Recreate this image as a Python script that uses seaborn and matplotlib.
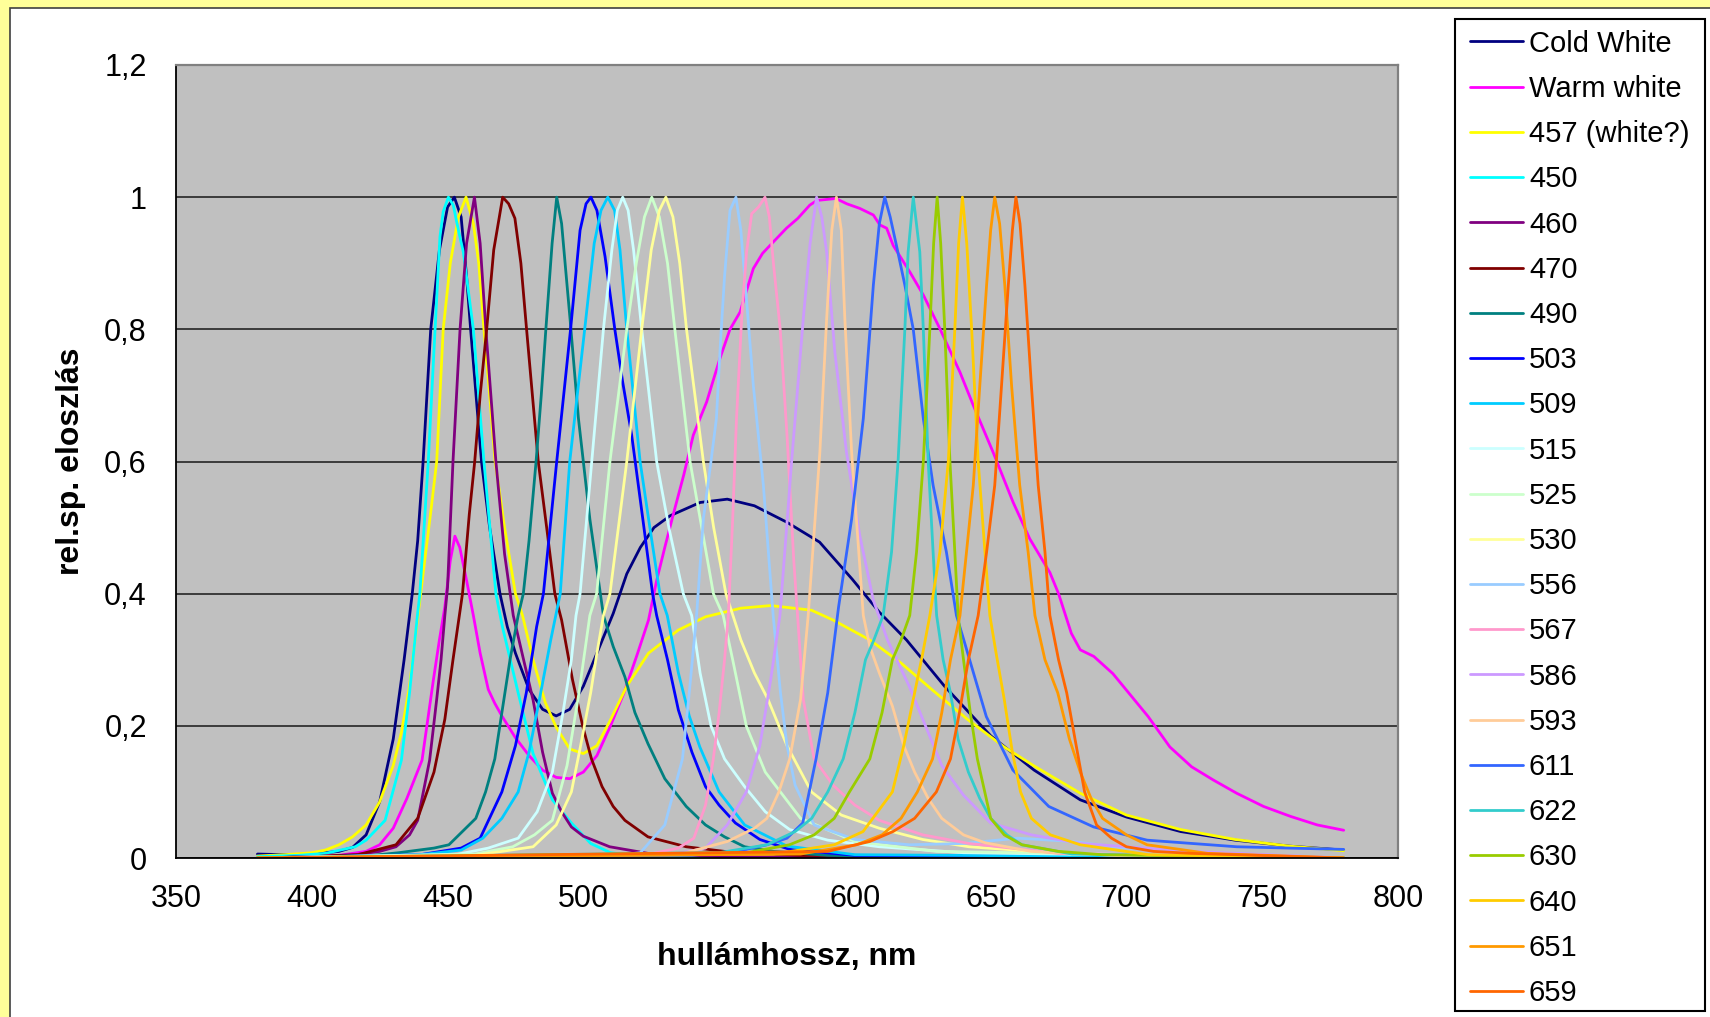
import matplotlib
matplotlib.use("Agg")
import matplotlib.pyplot as plt
from matplotlib.patches import Rectangle
import seaborn as sns

# spectra: wavelength (nm) and relative value
wl_cold = [380, 390, 400, 410, 415, 420, 425, 430, 434, 437, 439, 441, 443.8, 447, 450, 452.5, 455, 457, 458.5,
           460.5, 462.5, 465.5, 469.3, 472, 475, 480, 485, 490, 495, 500, 505, 511, 516, 521, 526, 532, 543,
           553, 563, 575, 587, 599, 609, 619, 633, 650, 666, 683, 700, 720, 740, 760, 780]
val_cold = [0.006, 0.005, 0.006, 0.010, 0.016, 0.035, 0.085, 0.18, 0.3, 0.4, 0.48, 0.6, 0.8, 0.92, 0.985, 1.0,
            0.97, 0.88, 0.8, 0.7, 0.6, 0.5, 0.4, 0.35, 0.31, 0.255, 0.225, 0.215, 0.225, 0.26, 0.31, 0.37, 0.43,
            0.47, 0.5, 0.518, 0.538, 0.543, 0.533, 0.508, 0.478, 0.422, 0.372, 0.33, 0.26, 0.185, 0.133, 0.088,
            0.062, 0.04, 0.027, 0.018, 0.012]

wl_warm = [380, 400, 410, 420, 425, 430, 435, 440.6, 444.8, 447, 449, 451, 452.7, 454.5, 457, 459.5, 462, 465,
           467.4, 470, 475, 480, 485, 490, 495, 500, 505, 510, 515, 520, 524, 527, 530, 533, 537, 540.5, 545.4,
           550.3, 554, 557.7, 562.6, 566, 569.9, 574.8, 579, 583.4, 586, 593, 597, 601.8, 606.8, 609.2, 611.7,
           614.1, 620.2, 625.2, 631.3, 638.7, 643.6, 650.9, 658.3, 664.4, 671.8, 675, 679.7, 683, 688, 695, 701,
           708, 716, 724, 732, 740.6, 750.5, 760.4, 770.3, 780]
val_warm = [0.002, 0.002, 0.004, 0.01, 0.02, 0.045, 0.09, 0.148, 0.27, 0.33, 0.38, 0.45, 0.487, 0.47, 0.42,
            0.367, 0.31, 0.255, 0.234, 0.215, 0.182, 0.155, 0.133, 0.122, 0.12, 0.13, 0.155, 0.2, 0.25, 0.31,
            0.36, 0.42, 0.47, 0.518, 0.58, 0.64, 0.69, 0.756, 0.8, 0.826, 0.892, 0.915, 0.932, 0.953, 0.968,
            0.988, 0.995, 0.998, 0.99, 0.983, 0.973, 0.958, 0.953, 0.927, 0.887, 0.852, 0.801, 0.735, 0.685,
            0.614, 0.538, 0.483, 0.432, 0.4, 0.34, 0.315, 0.305, 0.279, 0.249, 0.214, 0.168, 0.138, 0.118,
            0.098, 0.078, 0.063, 0.05, 0.042]

wl_457 = [380, 390, 400, 405, 410, 415, 420, 425, 430, 433, 436, 438.6, 441, 444, 446, 448.4, 451, 454, 456.8,
          459.5, 461.5, 463.4, 465.5, 467.5, 471, 475, 477.6, 481.5, 486, 490, 495, 500, 505, 510, 516, 524,
          535, 545, 558, 569, 584, 592, 605.5, 617, 628.6, 641.7, 655, 666.5, 683, 700, 720, 740, 760, 780]
val_457 = [0.003, 0.005, 0.008, 0.012, 0.02, 0.032, 0.05, 0.085, 0.14, 0.19, 0.26, 0.35, 0.43, 0.53, 0.6, 0.8,
           0.9, 0.97, 1.0, 0.96, 0.9, 0.8, 0.7, 0.6, 0.5, 0.4, 0.367, 0.3, 0.235, 0.198, 0.165, 0.158, 0.17,
           0.209, 0.26, 0.31, 0.345, 0.365, 0.378, 0.382, 0.375, 0.36, 0.33, 0.295, 0.254, 0.209, 0.168, 0.138,
           0.098, 0.065, 0.043, 0.028, 0.018, 0.011]

wl_450 = [380, 395, 405, 416, 420, 427, 433, 436, 438.9, 439.8, 442.9, 445.4, 447.2, 448.4, 450.3, 452.1, 454,
          455.8, 459.5, 463.4, 467.8, 470.2, 476, 481.5, 488.6, 495.6, 502.7, 510, 520, 540, 780]
val_450 = [0.002, 0.004, 0.007, 0.017, 0.027, 0.057, 0.148, 0.25, 0.367, 0.4, 0.6, 0.8, 0.94, 0.978, 1.0,
           0.988, 0.95, 0.917, 0.8, 0.6, 0.4, 0.35, 0.25, 0.158, 0.088, 0.053, 0.022, 0.008, 0.003, 0.001, 0.0]

wl_460 = [380, 400, 416, 425, 431, 436, 439, 443.4, 446, 447.6, 449, 450, 452, 454.6, 457, 459.9, 462, 464.1,
          467.8, 471, 474.2, 478, 481.5, 485, 488.6, 492, 495.6, 500, 509.7, 523.8, 550, 780]
val_460 = [0.0, 0.002, 0.005, 0.01, 0.017, 0.035, 0.057, 0.148, 0.24, 0.3, 0.367, 0.41, 0.6, 0.8, 0.93, 1.0,
           0.93, 0.8, 0.6, 0.46, 0.367, 0.3, 0.239, 0.16, 0.098, 0.07, 0.047, 0.033, 0.017, 0.007, 0.002, 0.0]

wl_470 = [380, 400, 417, 431, 439, 445, 449, 452, 455.5, 458, 460, 462, 464.4, 467, 470.3, 472.5, 474.8, 477,
          479.1, 483.4, 486.5, 489.5, 492, 496, 499.8, 503, 506.9, 511, 515.3, 523.8, 537.9, 552, 580, 780]
val_470 = [0.0, 0.002, 0.005, 0.02, 0.06, 0.13, 0.21, 0.3, 0.4, 0.52, 0.6, 0.7, 0.8, 0.92, 1.0, 0.99, 0.968,
           0.9, 0.8, 0.6, 0.5, 0.4, 0.36, 0.27, 0.199, 0.15, 0.108, 0.078, 0.057, 0.032, 0.017, 0.01, 0.004, 0.0]

wl_490 = [380, 420, 432, 445, 450.5, 460.4, 464, 467.4, 470, 473, 476, 477.9, 480, 482.6, 484.5, 486.2, 488.5,
          490.2, 492, 493.5, 495.1, 498.2, 502.4, 507.4, 511, 515.3, 519, 523.8, 530, 537.9, 545, 552, 559.4,
          570, 590, 620, 780]
val_490 = [0.0, 0.003, 0.008, 0.015, 0.02, 0.06, 0.1, 0.15, 0.22, 0.3, 0.367, 0.4, 0.48, 0.6, 0.7, 0.8, 0.93,
           1.0, 0.96, 0.89, 0.816, 0.665, 0.513, 0.367, 0.32, 0.274, 0.22, 0.173, 0.12, 0.078, 0.05, 0.032,
           0.017, 0.01, 0.004, 0.002, 0.0]

wl_503 = [380, 440, 455, 462, 470, 475, 479, 482.8, 485.3, 490.2, 495.3, 498.8, 501, 502.8, 505, 508, 511.6,
          514.5, 517.8, 522, 525.5, 527, 531, 535, 540, 545, 550, 556, 565, 576, 600, 780]
val_503 = [0.0, 0.005, 0.015, 0.03, 0.1, 0.17, 0.25, 0.35, 0.4, 0.6, 0.8, 0.95, 0.99, 1.0, 0.98, 0.91, 0.8,
           0.72, 0.64, 0.51, 0.4, 0.367, 0.3, 0.224, 0.16, 0.108, 0.08, 0.053, 0.028, 0.013, 0.004, 0.0]

wl_509 = [380, 440, 455, 463, 470, 476, 480, 484.3, 488, 491.5, 495, 500.5, 504, 506.5, 509, 511.5, 513.5, 516,
          520.9, 524.5, 528.2, 530.9, 535, 539, 542.9, 550, 559.4, 575, 600, 780]
val_509 = [0.0, 0.005, 0.012, 0.03, 0.06, 0.1, 0.16, 0.25, 0.33, 0.4, 0.6, 0.8, 0.93, 0.98, 1.0, 0.98, 0.92,
           0.8, 0.6, 0.5, 0.4, 0.367, 0.28, 0.215, 0.168, 0.1, 0.05, 0.018, 0.005, 0.0]

wl_515 = [380, 453, 465, 476, 483, 488.6, 492.5, 495.6, 497.3, 498.8, 503.1, 507.4, 510.5, 512.5, 514.5, 516.5,
          518.5, 521.5, 527, 531.5, 536.8, 539.9, 543, 547, 552, 559.4, 567, 576, 590, 609, 640, 780]
val_515 = [0.0, 0.005, 0.015, 0.03, 0.07, 0.13, 0.22, 0.3, 0.367, 0.4, 0.6, 0.8, 0.92, 0.98, 1.0, 0.98, 0.92,
           0.8, 0.6, 0.5, 0.4, 0.367, 0.28, 0.2, 0.15, 0.108, 0.07, 0.043, 0.027, 0.017, 0.008, 0.0]

wl_525 = [380, 460, 474, 482, 488.6, 494, 498.4, 502.4, 504.9, 509.8, 516, 519.5, 522.5, 525.2, 528, 531, 533.7,
          539.3, 547.9, 551.5, 555, 560, 567, 580, 600, 630, 780]
val_525 = [0.0, 0.006, 0.017, 0.035, 0.057, 0.14, 0.25, 0.367, 0.4, 0.6, 0.8, 0.9, 0.97, 1.0, 0.97, 0.9, 0.8,
           0.6, 0.4, 0.367, 0.3, 0.2, 0.13, 0.06, 0.025, 0.01, 0.0]

wl_530 = [380, 460, 481.5, 490, 495.6, 499, 502.7, 505, 507.4, 509.8, 516, 521.5, 525, 528, 530.4, 533, 535.5,
          538, 544.2, 548, 552.5, 558, 563, 568, 575, 584, 595, 609, 625, 642, 680, 780]
val_530 = [0.0, 0.004, 0.017, 0.05, 0.1, 0.17, 0.25, 0.31, 0.367, 0.4, 0.6, 0.8, 0.92, 0.98, 1.0, 0.97, 0.9,
           0.8, 0.6, 0.5, 0.4, 0.33, 0.28, 0.24, 0.17, 0.1, 0.065, 0.045, 0.028, 0.017, 0.006, 0.0]

wl_556 = [380, 510, 521, 530, 536.5, 539, 541.7, 544.2, 547, 549, 550.5, 552, 554, 556.2, 558, 560, 562.6, 566.3,
          569.9, 572.6, 575, 578, 585, 600, 620, 640, 660, 680, 700, 730, 780]
val_556 = [0.0, 0.003, 0.008, 0.05, 0.15, 0.25, 0.367, 0.513, 0.6, 0.665, 0.78, 0.88, 0.98, 1.0, 0.95, 0.85,
           0.715, 0.564, 0.367, 0.25, 0.17, 0.11, 0.05, 0.028, 0.02, 0.022, 0.03, 0.025, 0.015, 0.006, 0.0]

wl_567 = [380, 520, 535, 540.7, 545, 547.8, 550, 552, 553.4, 555, 556.4, 558.3, 560.1, 562, 564.5, 566.9, 568.5,
          570, 572.5, 575, 577.5, 579, 581, 585, 592, 600, 609, 625, 642, 675, 780]
val_567 = [0.0, 0.002, 0.015, 0.03, 0.08, 0.148, 0.22, 0.3, 0.367, 0.513, 0.665, 0.816, 0.917, 0.975, 0.985,
           1.0, 0.97, 0.9, 0.8, 0.64, 0.45, 0.36, 0.24, 0.15, 0.11, 0.08, 0.057, 0.035, 0.022, 0.007, 0.0]

wl_586 = [380, 530, 545, 553, 560, 565, 569, 572.4, 576.7, 581, 583.5, 585.9, 587.8, 589.6, 592.6, 596.9, 601.8,
          606.8, 612, 620, 626, 632, 640, 650, 665, 683, 724, 780]
val_586 = [0.0, 0.003, 0.015, 0.05, 0.1, 0.17, 0.27, 0.367, 0.6, 0.816, 0.93, 1.0, 0.97, 0.917, 0.766, 0.614,
           0.488, 0.39, 0.33, 0.26, 0.2, 0.14, 0.095, 0.053, 0.035, 0.022, 0.01, 0.0]

wl_593 = [380, 535, 553, 563, 567.6, 572, 576, 580, 582.8, 587.1, 589.6, 591.5, 593.2, 595, 596.3, 598.8, 603.1,
          605.5, 609, 613.8, 618, 622, 627, 632, 640, 648, 665, 700, 780]
val_593 = [0.0, 0.005, 0.025, 0.045, 0.06, 0.1, 0.15, 0.24, 0.367, 0.614, 0.816, 0.95, 1.0, 0.95, 0.816, 0.614,
           0.367, 0.32, 0.28, 0.23, 0.17, 0.13, 0.09, 0.06, 0.035, 0.023, 0.01, 0.003, 0.0]

wl_611 = [380, 540, 551, 560, 567.6, 575, 580.8, 585.7, 590, 594, 598.8, 603.1, 606.8, 609, 611, 613, 615.3,
          618.4, 621.5, 625.2, 628.8, 633.7, 637.4, 640.1, 648.4, 658.2, 671.4, 687.9, 707.6, 740.6, 760, 780]
val_611 = [0.0, 0.004, 0.008, 0.013, 0.02, 0.03, 0.053, 0.15, 0.25, 0.38, 0.513, 0.665, 0.867, 0.96, 1.0, 0.97,
           0.927, 0.867, 0.8, 0.665, 0.564, 0.463, 0.367, 0.33, 0.214, 0.133, 0.078, 0.047, 0.027, 0.017,
           0.015, 0.013]

wl_622 = [380, 550, 567.6, 578, 584.1, 590, 595.7, 600, 603.9, 607, 610.4, 613.5, 615.9, 618.4, 619.6, 621.5,
          623.9, 625.2, 627, 628.8, 630.1, 632.5, 635.2, 638, 641.8, 646, 650, 656, 661.5, 680, 780]
val_622 = [0.0, 0.008, 0.02, 0.04, 0.06, 0.1, 0.15, 0.22, 0.3, 0.33, 0.367, 0.463, 0.6, 0.8, 0.917, 1.0, 0.917,
           0.8, 0.6, 0.463, 0.367, 0.3, 0.25, 0.18, 0.13, 0.09, 0.06, 0.035, 0.02, 0.006, 0.0]

wl_630 = [380, 560, 575.9, 585, 592.4, 598, 605.5, 610, 613.8, 617, 620.2, 622.7, 625.2, 627.6, 629, 630.3,
          631.6, 633.1, 635, 636.8, 638, 640, 642.5, 645.1, 650, 655, 661.5, 675, 691, 780]
val_630 = [0.0, 0.008, 0.02, 0.035, 0.06, 0.1, 0.15, 0.22, 0.3, 0.33, 0.367, 0.463, 0.6, 0.8, 0.93, 1.0, 0.93,
           0.8, 0.6, 0.463, 0.367, 0.3, 0.22, 0.15, 0.06, 0.035, 0.02, 0.01, 0.005, 0.0]

wl_640 = [380, 570, 592.4, 603, 613.8, 618, 622, 625, 627.6, 631.3, 634.4, 636.8, 638.2, 639.6, 641.2, 643,
          645.4, 647.9, 649.7, 652, 655, 658, 661, 665, 672, 683, 708, 780]
val_640 = [0.0, 0.006, 0.02, 0.04, 0.1, 0.17, 0.25, 0.31, 0.367, 0.463, 0.6, 0.8, 0.93, 1.0, 0.93, 0.8, 0.6,
           0.463, 0.367, 0.31, 0.24, 0.16, 0.1, 0.06, 0.035, 0.02, 0.005, 0.0]

wl_651 = [380, 580, 600.6, 610, 617, 623, 628.6, 632, 635.2, 638.7, 641.1, 643.6, 646, 648.5, 650, 651.5, 653.3,
          655.2, 657.7, 660.7, 663.8, 666.3, 670, 674.7, 679, 683, 687, 691.2, 700, 707.6, 730, 780]
val_651 = [0.0, 0.006, 0.02, 0.035, 0.06, 0.1, 0.15, 0.22, 0.3, 0.367, 0.463, 0.564, 0.715, 0.867, 0.95, 1.0,
           0.96, 0.867, 0.715, 0.564, 0.463, 0.367, 0.3, 0.25, 0.18, 0.13, 0.09, 0.06, 0.035, 0.02, 0.007, 0.0]

wl_659 = [380, 590, 605.5, 614, 622, 630, 635.2, 638.5, 641.8, 645.4, 648.5, 651.5, 654, 656.5, 658, 659.3,
          660.8, 662.6, 665, 667.5, 670, 671.8, 675, 678, 681.5, 684.6, 689, 694.5, 700, 710, 724, 780]
val_659 = [0.0, 0.01, 0.025, 0.04, 0.06, 0.1, 0.15, 0.22, 0.3, 0.367, 0.463, 0.564, 0.715, 0.867, 0.95, 1.0,
           0.96, 0.867, 0.715, 0.564, 0.463, 0.367, 0.3, 0.25, 0.17, 0.1, 0.05, 0.03, 0.017, 0.01, 0.007, 0.0]

names = ["Cold White", "Warm white", "457 (white?)", "450", "460", "470", "490", "503", "509", "515",
         "525", "530", "556", "567", "586", "593", "611", "622", "630", "640", "651", "659"]
colors = ["#000080", "#FF00FF", "#FFFF00", "#00FFFF", "#800080", "#800000", "#008080", "#0000FF",
          "#00CCFF", "#CCFFFF", "#CCFFCC", "#FFFF99", "#99CCFF", "#FF99CC", "#CC99FF", "#FFCC99",
          "#3366FF", "#33CCCC", "#99CC00", "#FFCC00", "#FF9900", "#FF6600"]
curves = [(wl_cold, val_cold), (wl_warm, val_warm), (wl_457, val_457), (wl_450, val_450),
          (wl_460, val_460), (wl_470, val_470), (wl_490, val_490), (wl_503, val_503),
          (wl_509, val_509), (wl_515, val_515), (wl_525, val_525), (wl_530, val_530),
          (wl_556, val_556), (wl_567, val_567), (wl_586, val_586), (wl_593, val_593),
          (wl_611, val_611), (wl_622, val_622), (wl_630, val_630), (wl_640, val_640),
          (wl_651, val_651), (wl_659, val_659)]

x_ticks = [350, 400, 450, 500, 550, 600, 650, 700, 750, 800]
y_ticks = [0, 0.2, 0.4, 0.6, 0.8, 1.0, 1.2]
y_tick_labels = ["0", "0,2", "0,4", "0,6", "0,8", "1", "1,2"]

W, H = 1710, 1017
sns.set_style("white")
plt.rcParams['font.family'] = ['Liberation Sans', 'DejaVu Sans']
plt.rcParams.update({"text.color": "black", "axes.labelcolor": "black",
                     "xtick.color": "black", "ytick.color": "black"})

fig = plt.figure(figsize=(W / 100, H / 100), dpi=100, facecolor="#FFFF99")
# white chart area and legend frame
fig.patches.append(Rectangle((10 / W, -0.01), 1.0, 1 - 8 / H + 0.01, transform=fig.transFigure,
                             facecolor="white", edgecolor="#404040", lw=1.2, zorder=-2))
fig.patches.append(Rectangle((1455 / W, 1 - 1011 / H), 250 / W, (1011 - 19) / H, transform=fig.transFigure,
                             facecolor="white", edgecolor="black", lw=1.5, zorder=-1))

ax = fig.add_axes([176 / W, 1 - 858 / H, (1398 - 176) / W, (858 - 65) / H])
ax.set_facecolor("#C0C0C0")

for name, col, (wl, val) in zip(names, colors, curves):
    sns.lineplot(x=wl, y=val, color=col, lw=2.0, label=name, ax=ax, estimator=None)

ax.set_xlim(350, 800)
ax.set_ylim(0, 1.2)
ax.set_xticks(x_ticks)
ax.set_yticks(y_ticks)
ax.set_yticklabels(y_tick_labels)
ax.set_axisbelow(True)
ax.yaxis.grid(True, color="#303030", lw=1.3)
ax.xaxis.grid(False)
for side in ["top", "right"]:
    ax.spines[side].set_color("#808080")
    ax.spines[side].set_linewidth(1.6)
for side in ["left", "bottom"]:
    ax.spines[side].set_color("black")
    ax.spines[side].set_linewidth(1.3)
ax.tick_params(axis="both", direction="out", length=7, width=1.2, labelsize=22)
ax.tick_params(axis="x", pad=12)
ax.tick_params(axis="y", pad=14)

ax.set_xlabel("hullámhossz, nm", fontsize=23, fontweight="bold")
ax.set_ylabel("rel.sp. eloszlás", fontsize=23, fontweight="bold")
ax.xaxis.set_label_coords(0.5, -0.1062)
ax.yaxis.set_label_coords(-0.0733, 0.5)

handles, labels = ax.get_legend_handles_labels()
ax.get_legend().remove()
fig.legend(handles, labels, loc="upper left", bbox_to_anchor=(1470 / W, 1 - 29.7 / H),
           bbox_transform=fig.transFigure, frameon=False, fontsize=21, handlelength=1.82,
           handletextpad=0.2, labelspacing=0.59, borderpad=0, borderaxespad=0)

fig.savefig("out.png", dpi=100, facecolor=fig.get_facecolor())
